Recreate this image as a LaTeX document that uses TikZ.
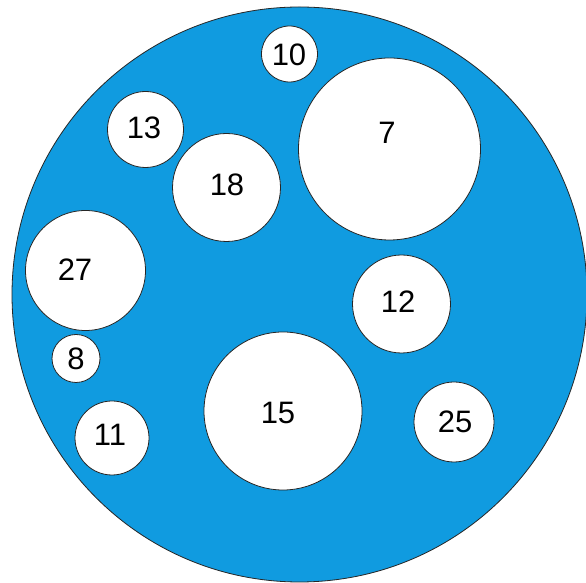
\documentclass[tikz,border=0pt]{standalone}
\usepackage{fontspec}
\setmainfont{Liberation Sans}
\definecolor{poolblue}{RGB}{16,155,224}
\begin{document}
\begin{tikzpicture}[x=1pt,y=1pt,
  disc/.style={circle,draw=black!85,line width=0.8pt,fill=poolblue,inner sep=0pt},
  hole/.style={circle,draw=black!85,line width=0.8pt,fill=white,inner sep=0pt},
  num/.style={font=\fontsize{31}{31}\selectfont,inner sep=0pt,text=black}]
\useasboundingbox (0,0) rectangle (586,583);
\fill[white] (0,0) rectangle (586,583);
\node[disc,minimum size=575pt] (big) at (299.5,288.5) {};
\node[hole,minimum size=56pt]  (h10) at (289.5,529) {};
\node[hole,minimum size=182pt] (h7)  at (389.5,434) {};
\node[hole,minimum size=76pt]  (h13) at (145.5,453.5) {};
\node[hole,minimum size=108pt] (h18) at (226.5,395.5) {};
\node[hole,minimum size=120pt] (h27) at (85.5,312.5) {};
\node[hole,minimum size=98pt]  (h12) at (401.5,279) {};
\node[hole,minimum size=48pt]  (h8)  at (76,224.5) {};
\node[hole,minimum size=158pt] (h15) at (283,172) {};
\node[hole,minimum size=74pt]  (h11) at (112,145) {};
\node[hole,minimum size=80pt]  (h25) at (454,161) {};
\node[num] (t10) at (289,528) {10};
\node[num] (t7)  at (387,450) {7};
\node[num] (t13) at (144,455) {13};
\node[num] (t18) at (227,398) {18};
\node[num] (t27) at (75,313) {27};
\node[num] (t12) at (398,281) {12};
\node[num] (t8)  at (76,224) {8};
\node[num] (t15) at (278,170) {15};
\node[num] (t11) at (110,148) {11};
\node[num] (t25) at (455,161) {25};
\end{tikzpicture}
\end{document}
